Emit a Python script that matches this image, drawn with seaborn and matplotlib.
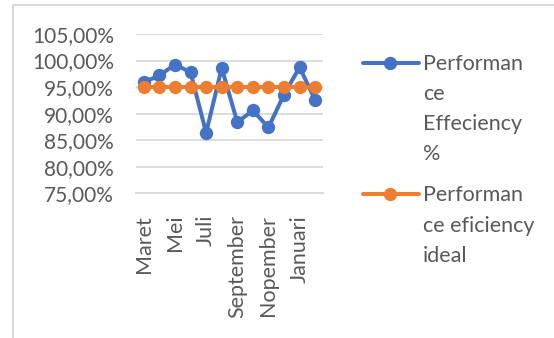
import numpy as np
import pandas as pd
import matplotlib
matplotlib.use("Agg")
import matplotlib.pyplot as plt
import seaborn as sns
from matplotlib.lines import Line2D
from matplotlib.ticker import FuncFormatter, FixedLocator

# Monthly performance efficiency vs. the ideal target
months = ["Maret", "April", "Mei", "Juni", "Juli", "Agustus", "September",
          "Oktober", "Nopember", "Desember", "Januari", "Februari"]
efficiency = [0.959, 0.972, 0.9925, 0.978, 0.864, 0.986, 0.884,
              0.906, 0.874, 0.936, 0.9875, 0.925]
ideal = [0.95] * 12
series_names = ["Performan\nce\nEffeciency\n%", "Performan\nce eficiency\nideal"]
y_ticks = [0.75, 0.80, 0.85, 0.90, 0.95, 1.00, 1.05]

BLUE = "#4472C4"
ORANGE = "#ED7D31"
TEXT = "#595959"
GRID = "#D9D9D9"

sns.set_theme(style="white")
plt.rcParams["font.family"] = ["Lato", "DejaVu Sans"]

W, H = 554, 338
fig = plt.figure(figsize=(W / 100, H / 100), dpi=100)
fig.patch.set_facecolor("white")

# chart frame (open on the right and bottom)
fig.add_artist(Line2D([13.2 / W, 13.2 / W], [0, 1 - 5 / H], transform=fig.transFigure,
                      color=GRID, lw=1.5))
fig.add_artist(Line2D([13.2 / W, 1], [1 - 5 / H, 1 - 5 / H], transform=fig.transFigure,
                      color=GRID, lw=1.5))

left, right, top, bottom = 136, 323, 34, 193.3
ax = fig.add_axes([left / W, 1 - bottom / H, (right - left) / W, (bottom - top) / H])

df = pd.DataFrame({"pos": np.arange(len(months)), "month": months,
                   "efficiency": efficiency, "ideal": ideal})

line_kw = dict(marker="o", markersize=9.6, linewidth=2.9, markeredgewidth=0)
sns.lineplot(data=df, x="pos", y="efficiency", ax=ax, color=BLUE, **line_kw)
sns.lineplot(data=df, x="pos", y="ideal", ax=ax, color=ORANGE, **line_kw)

ax.set_xlim(-0.5, len(months) - 0.5)
ax.set_ylim(y_ticks[0], y_ticks[-1])
ax.set_xlabel("")
ax.set_ylabel("")

ax.yaxis.set_major_locator(FixedLocator(y_ticks))
ax.yaxis.set_major_formatter(FuncFormatter(lambda v, _: f"{v * 100:.2f}%".replace(".", ",")))
ax.grid(axis="y", color=GRID, linewidth=1.3)
ax.set_axisbelow(True)

ax.set_xticks(df["pos"][::2])
ax.set_xticklabels(df["month"][::2], rotation=90, va="top", ha="center")
ax.xaxis.set_minor_locator(FixedLocator(np.arange(-0.5, len(months), 1.0)))

ax.tick_params(axis="x", which="major", length=0, pad=15.5, labelsize=15.5, labelcolor=TEXT)
ax.tick_params(axis="x", which="minor", length=5, width=1.3, color=GRID, direction="out")
ax.tick_params(axis="y", length=0, pad=16, labelsize=15, labelcolor=TEXT)

for s in ["left", "right", "top"]:
    ax.spines[s].set_visible(False)
ax.spines["bottom"].set_color(GRID)
ax.spines["bottom"].set_linewidth(1.3)

# legend to the right of the plot
legend_rows = [(62.7, BLUE, series_names[0]), (194.3, ORANGE, series_names[1])]
for y, col, name in legend_rows:
    yf = 1 - y / H
    fig.add_artist(Line2D([363 / W, 419 / W], [yf, yf], transform=fig.transFigure,
                          color=col, lw=2.9, solid_capstyle="round"))
    fig.add_artist(Line2D([390 / W], [yf], transform=fig.transFigure, color=col,
                          marker="o", markersize=9.6, markeredgewidth=0))
    fig.text(423 / W, 1 - (y - 9) / H, name, ha="left", va="top", fontsize=15.5,
             color=TEXT, linespacing=1.64)

fig.savefig("out.png", dpi=100, facecolor="white")
